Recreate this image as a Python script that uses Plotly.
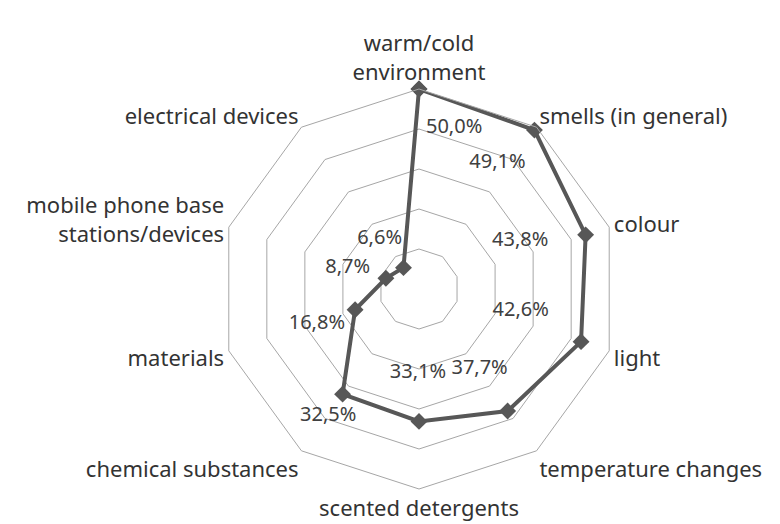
import plotly.graph_objects as go

categories = ["warm/cold<br>environment", "smells (in general)", "colour", "light",
              "temperature changes", "scented detergents", "chemical substances",
              "materials", "mobile phone base<br>stations/devices", "electrical devices"]
values = [50.0, 49.1, 43.8, 42.6, 37.7, 33.1, 32.5, 16.8, 8.7, 6.6]

# data-label placement (radius, angle clockwise from top) as seen in the reference
label_r = [41.2, 37.0, 28.0, 26.0, 25.0, 21.0, 39.0, 27.0, 18.6, 16.0]
label_theta = [12.3, 32.0, 64.6, 102.0, 142.7, 180.7, 215.6, 251.0, 286.5, 322.0]
label_text = [f"{v:.1f}".replace(".", ",") + "%" for v in values]

FONT = "Noto Sans"
DARK = "#575757"
GRID = "#a6a6a6"

fig = go.Figure()
fig.add_trace(go.Scatterpolar(
    r=values + [values[0]], theta=categories + [categories[0]],
    mode="lines+markers",
    line=dict(color=DARK, width=4),
    marker=dict(symbol="diamond", size=13, color=DARK),
    showlegend=False, hoverinfo="skip", subplot="polar"))
fig.add_trace(go.Scatterpolar(
    r=label_r, theta=label_theta, mode="text", text=label_text,
    textfont=dict(family=FONT, size=20, color="#404040"),
    showlegend=False, hoverinfo="skip", subplot="polar2"))

cx, cy, R = 411, 281, 200
W, H = 780, 524
dom = dict(x=[(cx - R) / W, (cx + R) / W], y=[(H - cy - R) / H, (H - cy + R) / H])
fig.update_layout(
    width=W, height=H,
    margin=dict(l=0, r=0, t=0, b=0),
    paper_bgcolor="white", plot_bgcolor="white",
    polar=dict(
        domain=dom,
        gridshape="linear",
        bgcolor="white",
        radialaxis=dict(range=[0, 50], dtick=10, showticklabels=False, ticks="",
                        showline=False, gridcolor=GRID, gridwidth=1),
        angularaxis=dict(direction="clockwise", rotation=90,
                         showgrid=False, ticks="", linecolor=GRID, linewidth=1,
                         tickfont=dict(family=FONT, size=22, color="#333333")),
    ),
    polar2=dict(
        domain=dom,
        bgcolor="rgba(0,0,0,0)",
        radialaxis=dict(range=[0, 50], visible=False),
        angularaxis=dict(direction="clockwise", rotation=90, visible=False),
    ),
)
fig.write_html("out.html")
